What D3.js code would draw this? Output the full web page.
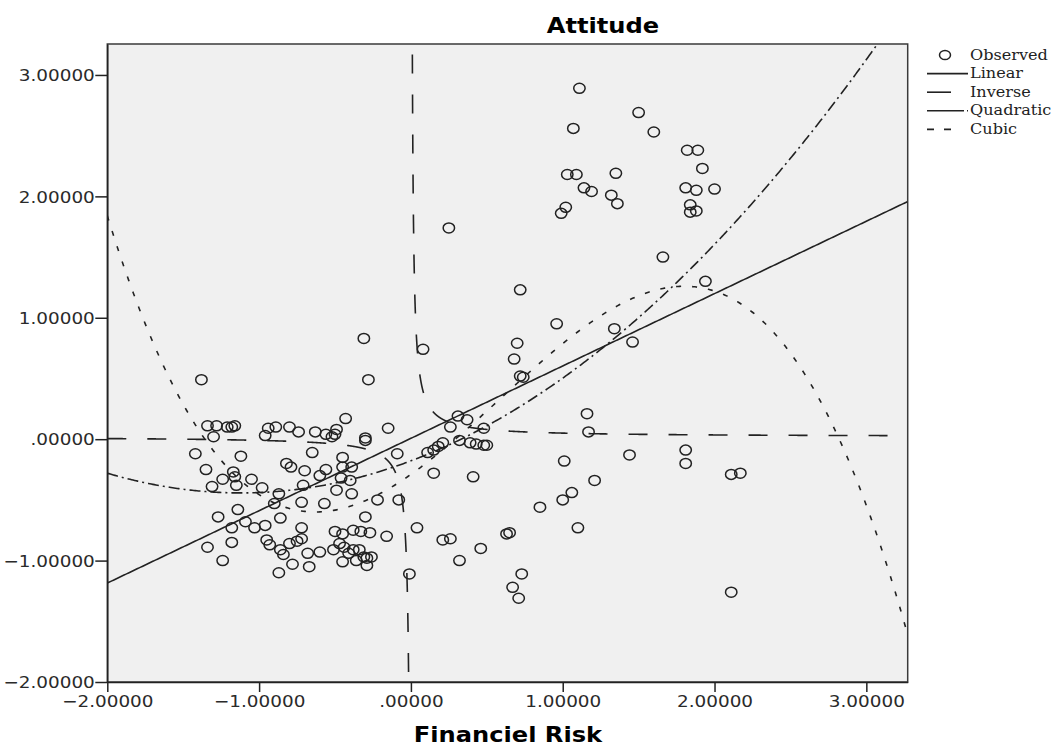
<!DOCTYPE html>
<html>
<head>
<meta charset="utf-8">
<script src="https://cdn.jsdelivr.net/npm/d3@7"></script>
<style>
  body { margin: 0; background: #fff; }
</style>
</head>
<body>
<div id="chart"></div>
<script>
// observed cases: Financiel Risk (x) and Attitude (y)
const riskX = [
  1.11,1.50,1.07,1.60,1.82,1.89,1.92,1.03,1.09,1.35,
  1.14,1.19,1.81,1.88,2.00,1.32,1.36,1.02,0.99,1.84,
  1.88,1.84,1.66,1.94,0.72,0.96,1.34,0.25,0.70,0.68,
  1.46,0.72,0.74,1.16,1.17,1.01,1.44,1.81,1.81,2.11,
  2.17,0.41,1.21,1.06,1.00,0.85,1.10,0.63,0.65,0.46,
  0.32,0.26,0.73,0.67,0.71,2.11,0.31,0.37,0.26,0.48,
  0.32,0.39,0.43,0.48,0.50,-0.31,-0.28,-1.38,-0.43,-0.15,
  -0.30,-0.30,-0.09,-1.34,-1.28,-1.21,-1.18,-1.16,-0.94,-0.89,
  -0.80,-0.74,-0.63,-0.56,-0.52,-0.50,-0.49,-1.30,-0.96,-1.42,
  -1.12,-0.65,-0.82,-0.79,-0.70,-0.60,-0.56,-0.45,-0.45,-0.39,
  -0.46,-0.40,-1.35,-1.17,-1.16,-1.24,-1.05,-0.98,-1.31,-1.15,
  -0.71,-0.49,-0.39,-0.87,-0.90,-0.72,-0.57,-1.27,-1.14,-0.86,
  -1.18,-1.09,-1.03,-0.96,-0.30,-0.22,-0.08,0.04,-0.16,-0.72,
  -0.50,-0.45,-0.38,-0.33,-0.27,-0.95,-0.93,-0.80,-0.75,-0.72,
  -0.86,-0.84,-0.60,-0.68,-0.51,-0.47,-0.44,-0.41,-0.38,-0.34,
  -0.31,-0.29,-0.26,-0.45,-0.36,-0.29,-1.34,-1.18,-1.24,-0.78,
  -0.67,-0.87,0.21,-0.01,0.08,0.15,0.11,0.18,0.21,0.15
];
const attitudeY = [
  2.89,2.69,2.56,2.53,2.38,2.38,2.23,2.18,2.18,2.19,
  2.07,2.04,2.07,2.05,2.06,2.01,1.94,1.91,1.86,1.93,
  1.88,1.87,1.50,1.30,1.23,0.95,0.91,1.74,0.79,0.66,
  0.80,0.52,0.51,0.21,0.06,-0.18,-0.13,-0.09,-0.20,-0.29,
  -0.28,-0.31,-0.34,-0.44,-0.50,-0.56,-0.73,-0.78,-0.77,-0.90,
  -1.00,-0.82,-1.11,-1.22,-1.31,-1.26,0.19,0.16,0.10,0.09,
  -0.01,-0.03,-0.04,-0.05,-0.05,0.83,0.49,0.49,0.17,0.09,
  0.01,-0.01,-0.12,0.11,0.11,0.10,0.10,0.11,0.09,0.10,
  0.10,0.06,0.06,0.04,0.02,0.04,0.08,0.02,0.03,-0.12,
  -0.14,-0.11,-0.20,-0.23,-0.26,-0.30,-0.25,-0.15,-0.23,-0.23,
  -0.32,-0.34,-0.25,-0.27,-0.31,-0.33,-0.33,-0.40,-0.39,-0.38,
  -0.38,-0.42,-0.45,-0.45,-0.53,-0.52,-0.53,-0.64,-0.58,-0.65,
  -0.73,-0.68,-0.73,-0.71,-0.64,-0.50,-0.50,-0.73,-0.80,-0.73,
  -0.76,-0.78,-0.75,-0.76,-0.77,-0.83,-0.87,-0.86,-0.84,-0.82,
  -0.91,-0.95,-0.93,-0.94,-0.91,-0.86,-0.89,-0.94,-0.91,-0.91,
  -0.97,-0.98,-0.97,-1.01,-1.00,-1.04,-0.89,-0.85,-1.00,-1.03,
  -1.05,-1.10,-0.83,-1.11,0.74,-0.09,-0.11,-0.06,-0.03,-0.28
];

// fitted model coefficients (b0, b1, ...)
const linearCoef = [0.007, 0.596];
const inverseCoef = [0.02, 0.03];
const quadraticCoef = [-0.1785, 0.4712, 0.2102];
const cubicCoef = [-0.290, 0.881, 0.455, -0.259];

const xTicks = [-2, -1, 0, 1, 2, 3];
const yTicks = [-2, -1, 0, 1, 2, 3];
const legendNames = ["Observed", "Linear", "Inverse", "Quadratic", "Cubic"];

const W = 1061, H = 747;
const plot = { left: 107.3, right: 907.7, top: 44, bottom: 682 };
const sx = 1.15; // the original is stretched a little horizontally

const svg = d3.select("#chart").append("svg")
    .attr("width", W)
    .attr("height", H)
    .style("background", "#fff");

const x = d3.scaleLinear().domain([-2, 3.2725]).range([plot.left, plot.right]);
const y = d3.scaleLinear().domain([-2, 3.255]).range([plot.bottom, plot.top]);

svg.append("rect")
    .attr("x", plot.left).attr("y", plot.top)
    .attr("width", plot.right - plot.left)
    .attr("height", plot.bottom - plot.top)
    .attr("fill", "#f0f0f0")
    .attr("stroke", "#3a3a3a")
    .attr("stroke-width", 1.5);

svg.append("clipPath").attr("id", "clip")
    .append("rect")
    .attr("x", plot.left).attr("y", plot.top)
    .attr("width", plot.right - plot.left)
    .attr("height", plot.bottom - plot.top);

const fmt = v => {
    let s = d3.format(".5f")(v);
    return s.replace(/^0\./, ".").replace(/^-0\./, "-.");
};

// axes
const yAxis = svg.append("g")
    .attr("transform", "translate(" + plot.left + ",0)")
    .call(d3.axisLeft(y).tickValues(yTicks).tickSize(12).tickSizeOuter(0).tickFormat(fmt));
yAxis.selectAll("text")
    .attr("x", -12.5 / sx)
    .attr("dy", "0.36em")
    .attr("transform", "scale(" + sx + ",1)")
    .style("font-family", "DejaVu Sans")
    .style("font-size", "16px")
    .style("fill", "#2a2a2a");

const xAxis = svg.append("g")
    .attr("transform", "translate(0," + plot.bottom + ")")
    .call(d3.axisBottom(x).tickValues(xTicks).tickSize(10).tickSizeOuter(0).tickFormat(fmt));
xAxis.selectAll("text")
    .attr("y", 25)
    .attr("dy", 0)
    .attr("transform", "scale(" + sx + ",1)")
    .style("font-family", "DejaVu Sans")
    .style("font-size", "16px")
    .style("fill", "#2a2a2a");

[yAxis, xAxis].forEach(a => {
    a.select(".domain").attr("stroke", "#222").attr("stroke-width", 1.5);
    a.selectAll(".tick line").attr("stroke", "#222").attr("stroke-width", 1.5);
});

// titles
svg.append("text")
    .attr("transform", "translate(603,33) scale(" + sx + ",1)")
    .attr("text-anchor", "middle")
    .style("font-family", "DejaVu Sans")
    .style("font-weight", "bold")
    .style("font-size", "21px")
    .text("Attitude");

svg.append("text")
    .attr("transform", "translate(508,742) scale(" + sx + ",1)")
    .attr("text-anchor", "middle")
    .style("font-family", "DejaVu Sans")
    .style("font-weight", "bold")
    .style("font-size", "21px")
    .text("Financiel Risk");

// points
const cases = riskX.map((v, i) => ({ x: v, y: attitudeY[i] }));
const inner = svg.append("g").attr("clip-path", "url(#clip)");

inner.selectAll("ellipse.obs")
    .data(cases)
    .enter()
    .append("ellipse")
    .attr("class", "obs")
    .attr("cx", d => x(d.x))
    .attr("cy", d => y(d.y))
    .attr("rx", 5.7)
    .attr("ry", 5)
    .attr("fill", "none")
    .attr("stroke", "#222")
    .attr("stroke-width", 1.5);

// fitted curves
const poly = c => v => c.reduce((s, b, k) => s + b * Math.pow(v, k), 0);
const line = d3.line().x(d => x(d[0])).y(d => y(d[1]));
const grid = d3.range(-2, 3.28, 0.01);

const curves = [
    { pts: grid.map(v => [v, poly(linearCoef)(v)]), dash: null },
    { pts: d3.range(-2, -0.0004, 0.0005).map(v => [v, inverseCoef[0] + inverseCoef[1] / v]), dash: "19,21" },
    { pts: d3.range(0.0005, 3.28, 0.0005).map(v => [v, inverseCoef[0] + inverseCoef[1] / v]), dash: "19,21" },
    { pts: grid.map(v => [v, poly(quadraticCoef)(v)]), dash: "11,4,2,4" },
    { pts: grid.map(v => [v, poly(cubicCoef)(v)]), dash: "5,11" }
];

curves.forEach(c => {
    inner.append("path")
        .attr("d", line(c.pts.filter(p => p[1] > -4 && p[1] < 6)))
        .attr("fill", "none")
        .attr("stroke", "#222")
        .attr("stroke-width", 1.6)
        .attr("stroke-dasharray", c.dash);
});

// legend
const legendDash = [null, null, "24,60", "37,3,2,60", "7,10,7,60"];
const legend = svg.append("g");
legendNames.forEach((name, i) => {
    const ly = 55 + i * 18.6;
    if (i === 0) {
        legend.append("ellipse")
            .attr("cx", 945).attr("cy", ly)
            .attr("rx", 5.5).attr("ry", 4.6)
            .attr("fill", "none").attr("stroke", "#222").attr("stroke-width", 1.5);
    } else {
        legend.append("line")
            .attr("x1", 927).attr("x2", 968)
            .attr("y1", ly).attr("y2", ly)
            .attr("stroke", "#222").attr("stroke-width", 1.6)
            .style("stroke-dasharray", legendDash[i]);
    }
    legend.append("text")
        .attr("transform", "translate(970," + (ly + 4.5) + ") scale(" + sx + ",1)")
        .style("font-family", "DejaVu Serif")
        .style("font-size", "14px")
        .style("fill", "#222")
        .text(name);
});
</script>
</body>
</html>
